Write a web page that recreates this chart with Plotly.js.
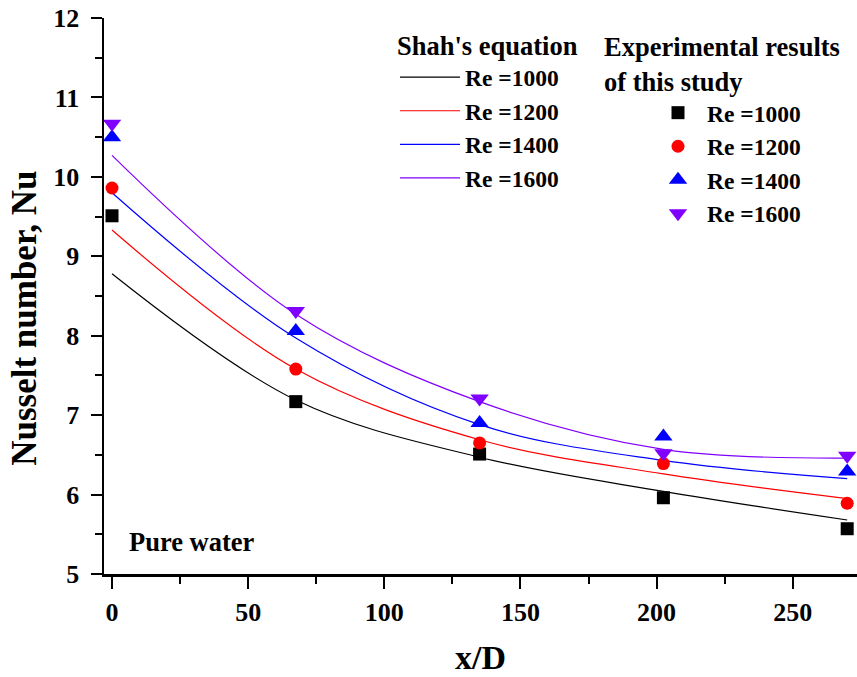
<!DOCTYPE html>
<html>
<head>
<meta charset="utf-8">
<script src="https://cdn.plot.ly/plotly-3.0.1.min.js"></script>
<style>html,body{margin:0;padding:0;background:#fff;}#chart{width:857px;height:677px;}</style>
</head>
<body>
<div id="chart"></div>
<script>
// x/D positions (shared by experiments and Shah's equation points)
const xPos = [0, 67.5, 135, 202.5, 270];

// Experimental results of this study
const nuExp1000 = [9.51, 7.17, 6.51, 5.96, 5.57];
const nuExp1200 = [9.86, 7.58, 6.65, 6.39, 5.89];
const nuExp1400 = [10.50, 8.06, 6.90, 6.73, 6.29];
const nuExp1600 = [10.67, 8.31, 7.21, 6.52, 6.49];

// Shah's equation values
const nuShah1000 = [8.78, 7.19, 6.47, 6.04, 5.68];
const nuShah1200 = [9.33, 7.58, 6.69, 6.26, 5.95];
const nuShah1400 = [9.80, 7.97, 6.88, 6.43, 6.20];
const nuShah1600 = [10.27, 8.27, 7.17, 6.57, 6.46];

const seriesNames = ['Re =1000', 'Re =1200', 'Re =1400', 'Re =1600'];
const colors = ['#000000', '#ff0000', '#0000ff', '#8000ff'];
const symbols = ['square', 'circle', 'triangle-up', 'triangle-down'];
const shahSeries = [nuShah1000, nuShah1200, nuShah1400, nuShah1600];
const expSeries = [nuExp1000, nuExp1200, nuExp1400, nuExp1600];

const FONT = 'Liberation Serif, Times New Roman, serif';

const traces = [];
shahSeries.forEach((ys, i) => {
  traces.push({
    x: xPos, y: ys, type: 'scatter', mode: 'lines',
    line: {color: colors[i], width: 1.2, shape: 'spline', smoothing: 1},
    name: seriesNames[i], legend: 'legend', hoverinfo: 'x+y'
  });
});
expSeries.forEach((ys, i) => {
  traces.push({
    x: xPos, y: ys, type: 'scatter', mode: 'markers',
    marker: {color: colors[i], symbol: symbols[i], size: i >= 2 ? 16 : 13, line: {width: 0}},
    name: seriesNames[i], legend: 'legend2', hoverinfo: 'x+y'
  });
});

const plotL = 104, plotR = 857, plotT = 18, plotB = 574.3;
const W = 857, H = 677;
const pw = plotR - plotL, ph = plotB - plotT;
const px = v => (v - plotL) / pw;
const py = v => (plotB - v) / ph;

const axisCommon = {
  showline: true, linewidth: 2.5, linecolor: '#000',
  showgrid: false, zeroline: false,
  tickwidth: 2, tickcolor: '#000',
  tickfont: {family: FONT, size: 26, color: '#000', weight: 'bold'}
};

const layout = {
  width: W, height: H,
  margin: {l: plotL, r: W - plotR, t: plotT, b: H - plotB},
  paper_bgcolor: '#fff', plot_bgcolor: '#fff',
  showlegend: true,
  font: {family: FONT, color: '#000'},
  xaxis: Object.assign({}, axisCommon, {
    range: [-2.94, 273.6], tick0: 0, dtick: 50,
    ticks: 'outside', ticklen: 12, ticklabelstandoff: 1,
    minor: {dtick: 25, tick0: 0, ticks: 'outside', ticklen: 7, tickwidth: 2, tickcolor: '#000'},
    title: {text: 'x/D', font: {family: FONT, size: 34, color: '#000', weight: 'bold'}, standoff: 20}
  }),
  xaxis2: {
    overlaying: 'x', side: 'top', anchor: 'y',
    range: [-2.94, 273.6], tick0: 0, dtick: 50,
    showline: true, linewidth: 2.5, linecolor: '#000', showgrid: false, zeroline: false,
    ticks: 'inside', ticklen: 10, tickwidth: 2, tickcolor: '#000', showticklabels: false,
    minor: {dtick: 25, tick0: 0, ticks: 'inside', ticklen: 6, tickwidth: 2, tickcolor: '#000'}
  },
  yaxis: Object.assign({}, axisCommon, {
    range: [5, 12], tick0: 5, dtick: 1,
    ticks: 'outside', ticklen: 11, ticklabelstandoff: 6,
    minor: {dtick: 0.5, ticks: 'outside', ticklen: 7, tickwidth: 2, tickcolor: '#000'}
  }),
  legend: {
    x: px(395), y: py(21), xanchor: 'left', yanchor: 'top',
    bgcolor: 'rgba(0,0,0,0)', borderwidth: 0,
    font: {family: FONT, size: 23.5, color: '#000', weight: 'bold'},
    title: {text: "Shah's equation", side: 'top', font: {family: FONT, size: 26.5, color: '#000', weight: 'bold'}},
    itemwidth: 60, tracegroupgap: 0
  },
  legend2: {
    x: px(602), y: py(22), xanchor: 'left', yanchor: 'top',
    bgcolor: 'rgba(0,0,0,0)', borderwidth: 0,
    font: {family: FONT, size: 23.5, color: '#000', weight: 'bold'},
    title: {text: 'Experimental results<br>of this study', side: 'top center', font: {family: FONT, size: 26.5, color: '#000', weight: 'bold'}},
    itemwidth: 48, indentation: 47, tracegroupgap: 0
  },
  annotations: [
    {text: 'Nusselt number, Nu', xref: 'paper', yref: 'paper', x: px(25), y: py(319),
     xanchor: 'center', yanchor: 'middle', textangle: -90, showarrow: false,
     font: {family: FONT, size: 35, color: '#000', weight: 'bold'}},
    {text: 'Pure water', xref: 'paper', yref: 'paper', x: px(127), y: py(542),
     xanchor: 'left', yanchor: 'middle', showarrow: false,
     font: {family: FONT, size: 26.5, color: '#000', weight: 'bold'}}
  ]
};

Plotly.newPlot('chart', traces, layout, {displayModeBar: false, staticPlot: true});
</script>
</body>
</html>
